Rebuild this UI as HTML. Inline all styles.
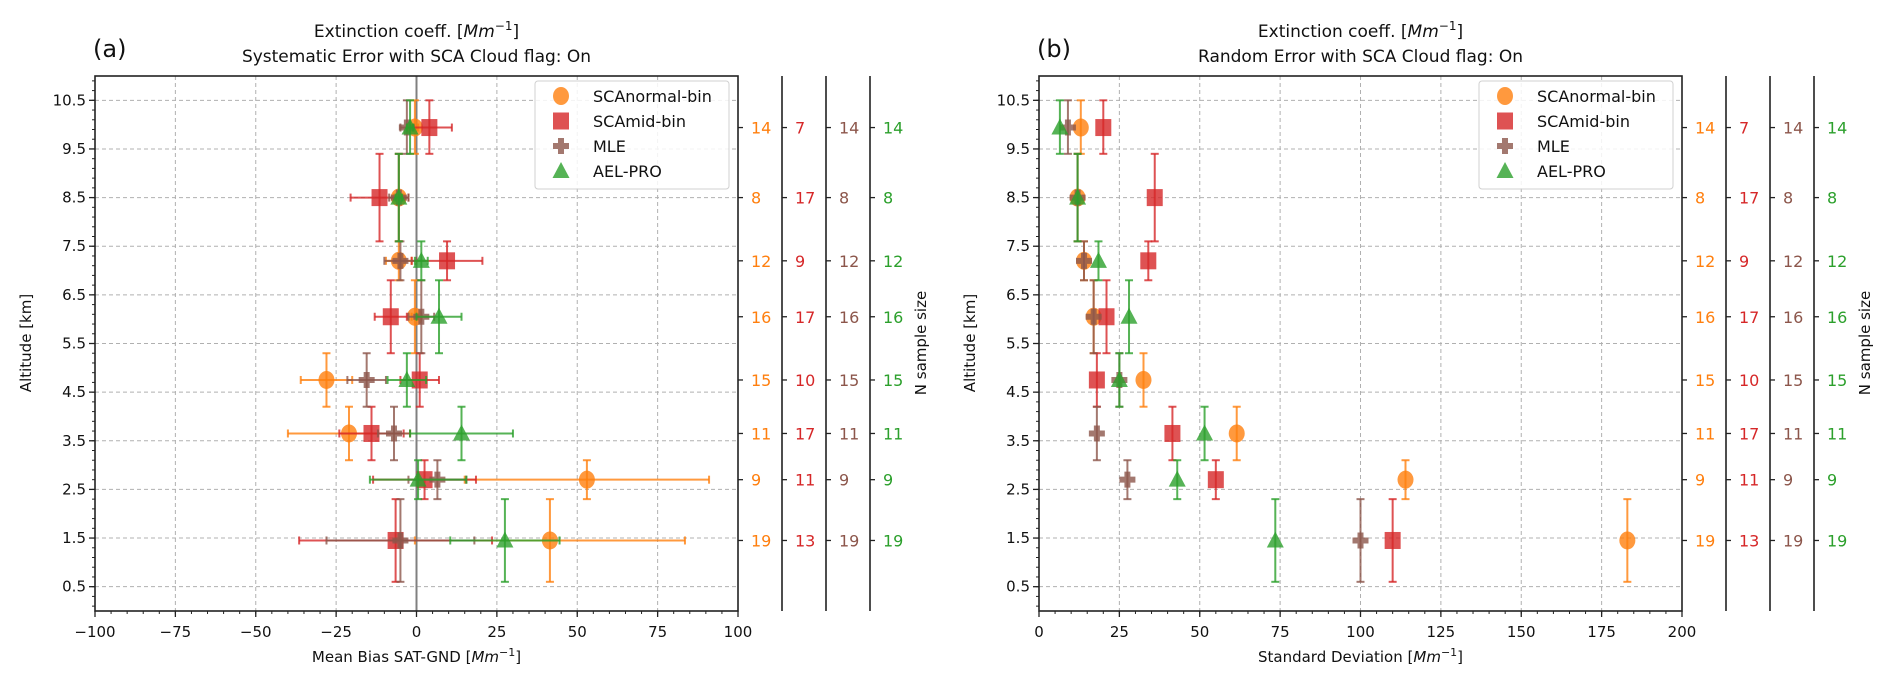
<!DOCTYPE html>
<html><head><meta charset="utf-8"><style>
html,body{margin:0;padding:0;background:#fff;}
svg{display:block;font-family:"DejaVu Sans","Liberation Sans",sans-serif;}
</style></head><body>
<svg id="chart" width="1892" height="686" viewBox="0 0 1892 686" xmlns="http://www.w3.org/2000/svg"></svg>
<script>
const altitudes=[9.94,8.5,7.2,6.05,4.75,3.65,2.7,1.45];
const altTop=[10.5,9.4,7.6,6.8,5.3,4.2,3.1,2.3];
const altBot=[9.4,7.6,6.8,5.3,4.2,3.1,2.3,0.6];
const seriesNames=["SCAnormal-bin","SCAmid-bin","MLE","AEL-PRO"];
const nOrange=[14,8,12,16,15,11,9,19];
const nRed=[7,17,9,17,10,17,11,13];
const nBrown=[14,8,12,16,15,11,9,19];
const nGreen=[14,8,12,16,15,11,9,19];
const biasOrange=[-0.5,-5.5,-5.5,-0.5,-28,-21,53,41.5];
const biasOrangeErr=[1,1.5,4,1,8,19,38,42];
const biasRed=[4,-11.5,9.5,-8,1,-14,2.5,-6.5];
const biasRedErr=[7,9,11,5,6,10,16,30];
const biasBrown=[-3,-5.5,-5,1.5,-15.5,-7,6.5,-5];
const biasBrownErr=[2,3,5,4,6,5,9,23];
const biasGreen=[-2,-5.5,1.5,7,-3,14,0.5,27.5];
const biasGreenErr=[1,1,2,7,6,16,15,17];
const sdOrange=[13,12,14,17,32.5,61.5,114,183];
const sdRed=[20,36,34,21,18,41.5,55,110];
const sdBrown=[9,12,14,17,25,18,27.5,100];
const sdGreen=[6.5,12,18.5,28,25,51.5,43,73.5];
const xTicksA=[-100,-75,-50,-25,0,25,50,75,100];
const xTicksB=[0,25,50,75,100,125,150,175,200];
const yTicks=[0.5,1.5,2.5,3.5,4.5,5.5,6.5,7.5,8.5,9.5,10.5];

const NS="http://www.w3.org/2000/svg";
const svg=document.getElementById('chart');
const COLORS=["#ff7f0e","#d62728","#8c564b","#2ca02c"];
function mk(tag,attrs,parent){const e=document.createElementNS(NS,tag);for(const k in attrs)e.setAttribute(k,attrs[k]);(parent||svg).appendChild(e);return e;}
const AX={top:76,bottom:611,ymin:0,ymax:11};
function yScale(v){return AX.bottom-(v-AX.ymin)/(AX.ymax-AX.ymin)*(AX.bottom-AX.top);}

function marker(g,kind,cx,cy,color){
  let m;
  if(kind===0){m=mk('ellipse',{cx:cx,cy:cy,rx:8,ry:9,fill:color,'fill-opacity':0.8},g);}
  else if(kind===1){m=mk('rect',{x:cx-8,y:cy-8.5,width:16,height:17,fill:color,'fill-opacity':0.8},g);}
  else if(kind===2){m=mk('path',{d:`M${cx-3},${cy-8}h6v5h5v6h-5v5h-6v-5h-5v-6h5z`,fill:color,'fill-opacity':0.8},g);}
  else {m=mk('path',{d:`M${cx},${cy-9}L${cx+8.5},${cy+7}L${cx-8.5},${cy+7}Z`,fill:color,'fill-opacity':0.8},g);}
  return m;
}

function panel(off,label,title2,xlabel,xmin,xmax,xTicks,minorStep,vals,errs,showZero){
  const L=95+off,R=738+off;
  const xs=v=>L+(v-xmin)/(xmax-xmin)*(R-L);
  const g=mk('g',{});
  
  
  // grid
  xTicks.forEach(t=>{const ln=mk('line',{x1:xs(t),x2:xs(t),y1:AX.top,y2:AX.bottom,stroke:'#b0b0b0','stroke-dasharray':'4,3','stroke-width':1},g);});
  yTicks.forEach(t=>{const ln=mk('line',{x1:L,x2:R,y1:yScale(t),y2:yScale(t),stroke:'#b0b0b0','stroke-dasharray':'4,3','stroke-width':1},g);});
  if(showZero){const z=mk('line',{x1:xs(0),x2:xs(0),y1:AX.top,y2:AX.bottom,stroke:'#808080','stroke-width':2},g);}
  // series
  for(let s=0;s<4;s++){
    const sg=mk('g',{},g);
    
    
    const c=COLORS[s];
    for(let i=0;i<altitudes.length;i++){
      const cx=xs(vals[s][i]),cy=yScale(altitudes[i]);
      const eg=mk('g',{stroke:c,'stroke-width':2,'stroke-opacity':0.8},sg);
      
      
      const yt=yScale(altTop[i]),yb=yScale(altBot[i]);
      mk('line',{x1:cx,x2:cx,y1:yt,y2:yb},eg);
      mk('line',{x1:cx-4,x2:cx+4,y1:yt,y2:yt},eg);
      mk('line',{x1:cx-4,x2:cx+4,y1:yb,y2:yb},eg);
      if(errs){const xl=xs(vals[s][i]-errs[s][i]),xr=xs(vals[s][i]+errs[s][i]);
        mk('line',{x1:xl,x2:xr,y1:cy,y2:cy},eg);
        mk('line',{x1:xl,x2:xl,y1:cy-4,y2:cy+4},eg);
        mk('line',{x1:xr,x2:xr,y1:cy-4,y2:cy+4},eg);}
      const m=marker(sg,s,cx,cy,c);
      
      
    }
  }
  // frame
  const fr=mk('rect',{x:L,y:AX.top,width:R-L,height:AX.bottom-AX.top,fill:'none',stroke:'#222','stroke-width':1.6},g);
  
  // x ticks
  xTicks.forEach(t=>{mk('line',{x1:xs(t),x2:xs(t),y1:AX.bottom,y2:AX.bottom+6,stroke:'#222','stroke-width':1.3},g);
    const tx=mk('text',{x:xs(t),y:AX.bottom+26,'text-anchor':'middle','font-size':15,fill:'#111'},g);tx.textContent=(t<0?'\u2212'+(-t):t);
    });
  for(let v=xmin;v<=xmax;v+=minorStep){mk('line',{x1:xs(v),x2:xs(v),y1:AX.bottom,y2:AX.bottom+3,stroke:'#222','stroke-width':1},g);}
  // y ticks
  yTicks.forEach(t=>{mk('line',{x1:L-6,x2:L,y1:yScale(t),y2:yScale(t),stroke:'#222','stroke-width':1.3},g);
    const tx=mk('text',{x:L-9,y:yScale(t)+5,'text-anchor':'end','font-size':15,fill:'#111'},g);tx.textContent=t.toFixed(1);
    });
  for(let v=0.1;v<11;v+=0.2){mk('line',{x1:L-3,x2:L,y1:yScale(v),y2:yScale(v),stroke:'#222','stroke-width':1},g);}
  // extra N-size axes
  const nArr=[nOrange,nRed,nBrown,nGreen];
  const spineX=[R,782+off,826+off,870+off];
  for(let s=0;s<4;s++){
    const ag=mk('g',{},g);
    
    
    if(s>0)mk('line',{x1:spineX[s],x2:spineX[s],y1:AX.top,y2:AX.bottom,stroke:'#222','stroke-width':1.6},ag);
    for(let i=0;i<altitudes.length;i++){
      const y=yScale(altitudes[i]);
      mk('line',{x1:spineX[s],x2:spineX[s]+5,y1:y,y2:y,stroke:'#222','stroke-width':1.3},ag);
      const tx=mk('text',{x:spineX[s]+13,y:y+6,'font-size':16,fill:COLORS[s]},ag);tx.textContent=nArr[s][i];
      
    }
  }
  const nl=mk('text',{x:0,y:0,'font-size':15,fill:'#111','text-anchor':'middle',transform:`translate(${926+off},${343}) rotate(-90)`},g);
  nl.textContent='N sample size';
  // legend
  const lg=mk('g',{},g);
  mk('rect',{x:535+off,y:81,width:194,height:108,rx:3,fill:'#fff','fill-opacity':0.85,stroke:'#d0d0d0','stroke-width':1},lg);
  for(let s=0;s<4;s++){const y=96+s*25;
    const eg=mk('g',{},lg);
    marker(eg,s,561+off,y,COLORS[s]);
    const tx=mk('text',{x:593+off,y:y+6,'font-size':16,fill:'#111'},eg);tx.textContent=seriesNames[s];}
  // titles
  const cx=(L+R)/2;
  const t1=mk('text',{x:cx,y:37,'text-anchor':'middle','font-size':17,fill:'#111'},g);
  t1.innerHTML='Extinction coeff. [<tspan font-style="italic">Mm</tspan><tspan dy="-7" font-size="12">\u22121</tspan><tspan dy="7">]</tspan>';
  
  const t2=mk('text',{x:cx,y:62,'text-anchor':'middle','font-size':17,fill:'#111'},g);t2.textContent=title2;
  
  const pl=mk('text',{x:L-2,y:57,'font-size':24,fill:'#111'},g);pl.textContent=label;
  
  const xl=mk('text',{x:cx,y:662,'text-anchor':'middle','font-size':15,fill:'#111'},g);
  xl.innerHTML=xlabel+' [<tspan font-style="italic">Mm</tspan><tspan dy="-6" font-size="11">\u22121</tspan><tspan dy="6">]</tspan>';
  
  const yl=mk('text',{x:0,y:0,'font-size':15,fill:'#111','text-anchor':'middle',transform:`translate(${31+off},${343}) rotate(-90)`},g);
  yl.textContent='Altitude [km]';
}
panel(0,'(a)','Systematic Error with SCA Cloud flag: On','Mean Bias SAT-GND',-100,100,xTicksA,5,
  [biasOrange,biasRed,biasBrown,biasGreen],[biasOrangeErr,biasRedErr,biasBrownErr,biasGreenErr],true);
panel(944,'(b)','Random Error with SCA Cloud flag: On','Standard Deviation',0,200,xTicksB,5,
  [sdOrange,sdRed,sdBrown,sdGreen],null,false);
</script>
</body></html>
